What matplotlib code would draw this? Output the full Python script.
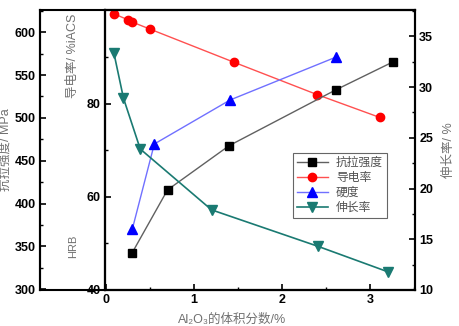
import numpy as np
import matplotlib
matplotlib.use('Agg')
import matplotlib.pyplot as plt
from matplotlib.ticker import MultipleLocator, FixedLocator

plt.rcParams['font.family'] = ['Liberation Sans', 'Noto Sans CJK SC', 'DejaVu Sans']

# data
x_cond = [0.09, 0.25, 0.30, 0.50, 1.45, 2.40, 3.11]
cond = [99.4, 98.1, 97.6, 96.1, 89.0, 82.0, 77.1]

x_ts = [0.30, 0.70, 1.40, 2.61, 3.26]
ts = [342.7, 415.9, 467.6, 532.7, 565.4]

x_hrb = [0.30, 0.55, 1.41, 2.61]
hrb = [35.2, 56.5, 67.5, 78.2]

x_el = [0.09, 0.20, 0.39, 1.20, 2.41, 3.20]
elong = [33.4, 28.9, 23.9, 17.9, 14.3, 11.8]

W, H = 460, 326
fig = plt.figure(figsize=(W / 100, H / 100), dpi=100)
L, R, T, B = 105, 415, 10, 290
pos = [L / W, 1 - B / H, (R - L) / W, (B - T) / H]

# the little box around the outer left axis
box = fig.add_axes([40 / W, 1 - B / H, (L - 40) / W, (B - T) / H])
box.set_xticks([])
box.set_yticks([])
for s in box.spines.values():
    s.set_linewidth(1.5)

ax = fig.add_axes(pos)
ax.patch.set_alpha(0)
ax_t = ax.twinx()
ax_h = ax.twinx()
ax_e = ax.twinx()

gray = '#707070'

# conductivity (inner left)
ax.set_xlim(-0.01, 3.51)
ax.set_ylim(40, 100.2)
ax.yaxis.set_major_locator(FixedLocator([40, 60, 80]))
ax.yaxis.set_minor_locator(FixedLocator([50, 70, 90]))
ax.xaxis.set_major_locator(MultipleLocator(1))
ax.xaxis.set_minor_locator(MultipleLocator(0.5))
ax.tick_params(which='both', direction='in', labelsize=9)
ax.tick_params(which='major', length=4, width=1.2, pad=3)
ax.tick_params(which='minor', length=2.5, width=1)
ax.tick_params(axis='y', which='both', right=False)
ax.tick_params(axis='x', which='both', top=False)
for t in ax.get_xticklabels() + ax.get_yticklabels():
    t.set_fontweight('bold')
for s in ax.spines.values():
    s.set_linewidth(1.5)
ax.set_xlabel('Al₂O₃的体积分数/%', fontsize=9, color=gray, labelpad=1)
ax.xaxis.set_label_coords((232 - L) / (R - L), -0.085)

# tensile strength (outer left)
ax_t.set_ylim(299, 626)
ax_t.spines['left'].set_visible(True)
ax_t.spines['left'].set_position(('axes', -(L - 40) / (R - L)))
ax_t.spines['right'].set_visible(False)
ax_t.yaxis.set_ticks_position('left')
ax_t.yaxis.set_label_position('left')
ax_t.yaxis.set_major_locator(MultipleLocator(50))
ax_t.yaxis.set_minor_locator(MultipleLocator(25))
ax_t.tick_params(which='both', direction='in', labelsize=9)
ax_t.tick_params(which='major', length=4, width=1.2, pad=3)
ax_t.tick_params(which='minor', length=2.5, width=1)
for t in ax_t.get_yticklabels():
    t.set_fontweight('bold')
for s in ax_t.spines.values():
    s.set_linewidth(1.5)
ax_t.set_ylabel('抗拉强度/ MPa', fontsize=9, color=gray)
ax_t.yaxis.set_label_coords((12 - L) / (R - L), 0.5)

# hardness (no ticks)
ax_h.set_ylim(20, 90)
ax_h.axis('off')

# elongation (right)
ax_e.set_ylim(10, 37.6)
ax_e.yaxis.set_major_locator(MultipleLocator(5))
ax_e.yaxis.set_minor_locator(MultipleLocator(2.5))
ax_e.tick_params(which='both', direction='in', labelsize=9)
ax_e.tick_params(which='major', length=4, width=1.2, pad=3)
ax_e.tick_params(which='minor', length=2.5, width=1)
for t in ax_e.get_yticklabels():
    t.set_fontweight('bold')
for s in ax_e.spines.values():
    s.set_linewidth(1.5)
ax_e.set_ylabel('伸长率/ %', fontsize=9, color=gray, rotation=90)
ax_e.yaxis.set_label_coords((443 - L) / (R - L), 0.5)

h1, = ax_t.plot(x_ts, ts, '-s', color='#606060', mfc='black', mec='black', ms=5.5, lw=1, label='抗拉强度')
h2, = ax.plot(x_cond, cond, '-o', color='#ff5050', mfc='red', mec='red', ms=6, lw=1, label='导电率')
h3, = ax_h.plot(x_hrb, hrb, '-^', color='#7070ff', mfc='blue', mec='blue', ms=6.5, lw=1, label='硬度')
h4, = ax_e.plot(x_el, elong, '-v', color='#1a7a72', mfc='#1a7a72', mec='#1a7a72', ms=6.5, lw=1.2, label='伸长率')

leg = ax_e.legend(handles=[h1, h2, h3, h4], loc='upper left',
                  bbox_to_anchor=((293 - L) / (R - L), 1 - (153 - T) / (B - T)),
                  fontsize=8.5, frameon=True, fancybox=False, handlelength=2.6,
                  borderpad=0.35, labelspacing=0.25, handletextpad=0.7, borderaxespad=0)
leg.get_frame().set_edgecolor('#404040')
leg.get_frame().set_linewidth(0.8)
for t in leg.get_texts():
    t.set_color('#505050')

fig.text(73 / W, 1 - 14 / H, '导电率/ %iACS', rotation=90, ha='center', va='top',
         fontsize=9, color=gray)
fig.text(73 / W, 1 - 258 / H, 'HRB', rotation=90, ha='center', va='bottom',
         fontsize=8, color=gray)

fig.savefig('out.png', dpi=100)
